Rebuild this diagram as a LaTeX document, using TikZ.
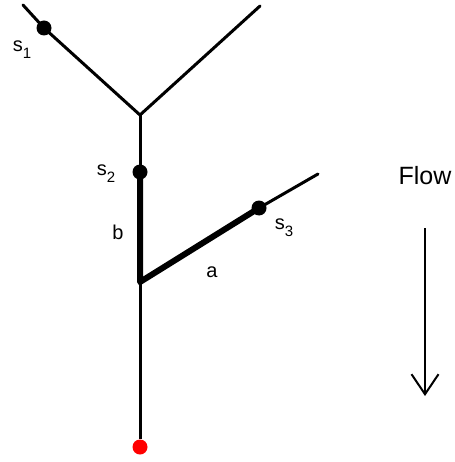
\documentclass[tikz,border=0pt]{standalone}
\usepackage{fontspec}
\setmainfont{Liberation Sans}
\usetikzlibrary{arrows.meta}
\newcommand{\sub}[1]{\raisebox{-0.35em}{\fontsize{15}{15}\selectfont #1}}
\tikzset{
  thinline/.style={line width=3pt, line cap=round},
  thickline/.style={line width=6pt, line cap=round, line join=round},
  dot/.style={circle, fill=black, inner sep=0pt, minimum size=15pt},
  reddot/.style={circle, fill=red, inner sep=0pt, minimum size=15pt},
  lbl/.style={font=\fontsize{20}{20}\selectfont, inner sep=0pt},
  flowlbl/.style={font=\fontsize{25}{25}\selectfont, inner sep=0pt},
  flowarrow/.style={line width=2pt, -{Straight Barb[length=20pt,width=27pt,line width=2pt]}}
}
\begin{document}
\begin{tikzpicture}[x=1pt,y=-1pt]
\useasboundingbox (0,0) rectangle (454,462);
\coordinate (tl) at (23,5);
\coordinate (tr) at (260,6);
\coordinate (j1) at (140,115);
\coordinate (j2) at (140,282);
\coordinate (ae) at (318,174);
\node[dot] (s1) at (44,28) {};
\node[dot] (s2) at (140,172) {};
\node[dot] (s3) at (259,208) {};
\node[reddot] (out) at (140,447) {};
\draw[thinline] (tl) -- (s1.center) -- (j1) -- (tr);
\draw[thinline] (j1) -- (s2.center);
\draw[thickline] (s2.center) -- (j2) -- (s3.center);
\draw[thinline] (s3.center) -- (ae);
\draw[thinline, line cap=butt] (j2) -- (out);
\node[lbl] (l1) at (22,50) {s\sub{1}};
\node[lbl] (l2) at (106,174) {s\sub{2}};
\node[lbl] (lb) at (118,232) {b};
\node[lbl] (l3) at (284,228) {s\sub{3}};
\node[lbl] (la) at (212,272) {a};
\node[flowlbl] (fl) at (425,176) {Flow};
\coordinate (fa) at (425,228);
\coordinate (fb) at (425,396);
\draw[flowarrow] (fa) -- (fb);
\end{tikzpicture}
\end{document}
